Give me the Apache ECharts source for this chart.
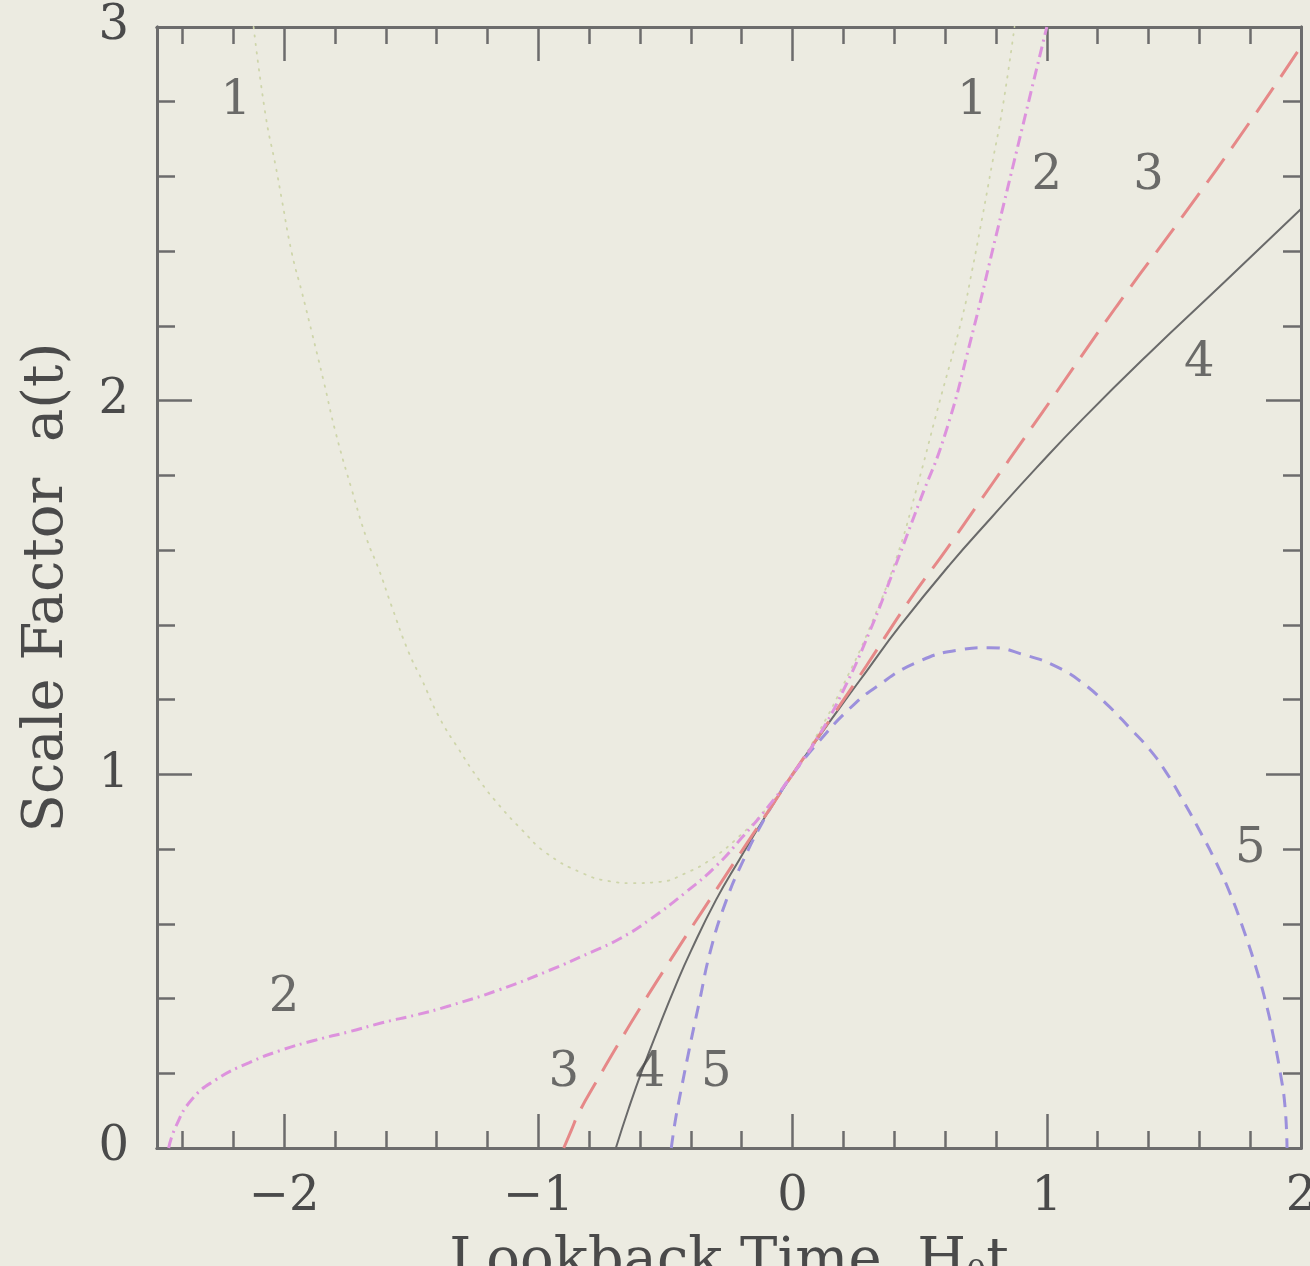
<!DOCTYPE html>
<html>
<head>
<meta charset="utf-8">
<script src="https://cdn.jsdelivr.net/npm/echarts@6/dist/echarts.min.js"></script>
<style>
  html, body { margin: 0; padding: 0; background: #ecebe1; }
  #chart { width: 1310px; height: 1266px; }
</style>
</head>
<body>
<div id="chart"></div>
<script>
// Tick positions (lookback time H0 t on x, scale factor a(t) on y)
const X_MAJOR = [-2, -1, 0, 1, 2];
const X_MINOR = [-2.4, -2.2, -1.8, -1.6, -1.4, -1.2, -0.8, -0.6, -0.4, -0.2,
                 0.2, 0.4, 0.6, 0.8, 1.2, 1.4, 1.6, 1.8];
const Y_MAJOR = [0, 1, 2, 3];
const Y_MINOR = [0.2, 0.4, 0.6, 0.8, 1.2, 1.4, 1.6, 1.8, 2.2, 2.4, 2.6, 2.8];

// Model 1: bouncing universe (dotted)
const curve1 = [
  [-2.12, 3.0], [-2.072, 2.76], [-2.033, 2.627], [-2.009, 2.538], [-1.97, 2.396],
  [-1.93, 2.29], [-1.89, 2.18], [-1.843, 2.048], [-1.797, 1.914], [-1.734, 1.762],
  [-1.674, 1.628], [-1.627, 1.548], [-1.576, 1.448], [-1.509, 1.325], [-1.458, 1.253],
  [-1.391, 1.154], [-1.312, 1.066], [-1.233, 0.985], [-1.155, 0.918], [-1.064, 0.851],
  [-0.97, 0.79], [-0.828, 0.736], [-0.72, 0.714], [-0.63, 0.709], [-0.525, 0.712],
  [-0.419, 0.736], [-0.316, 0.775], [-0.21, 0.834], [-0.1, 0.91], [0, 1.0],
  [0.1, 1.11], [0.197, 1.236], [0.302, 1.39], [0.408, 1.578], [0.487, 1.762],
  [0.57, 1.976], [0.668, 2.225], [0.707, 2.351], [0.747, 2.493], [0.786, 2.637],
  [0.825, 2.779], [0.873, 3.0]
];

// Model 2: loitering universe (dash-dot)
const curve2 = [
  [-2.454, 0.0], [-2.427, 0.056], [-2.364, 0.129], [-2.27, 0.182], [-2.139, 0.228],
  [-2.01, 0.262], [-1.875, 0.289], [-1.745, 0.311], [-1.615, 0.335], [-1.482, 0.356],
  [-1.352, 0.38], [-1.155, 0.423], [-0.958, 0.475], [-0.789, 0.525], [-0.68, 0.56],
  [-0.564, 0.61], [-0.419, 0.685], [-0.3, 0.755], [-0.2, 0.83], [-0.1, 0.91],
  [0, 1.0], [0.1, 1.1], [0.2, 1.225], [0.302, 1.38], [0.4, 1.55], [0.5, 1.73],
  [0.6, 1.91], [0.7, 2.16], [0.8, 2.44], [0.9, 2.72], [1.0, 3.0]
];

// Model 3: long dashes
const curve3 = [
  [-0.9, 0.0], [-0.87, 0.048], [-0.84, 0.095], [-0.773, 0.176], [-0.683, 0.281],
  [-0.604, 0.37], [-0.486, 0.497], [-0.355, 0.634], [-0.183, 0.812], [-0.09, 0.907],
  [0, 1.0], [0.157, 1.156], [0.29, 1.29], [0.459, 1.465], [0.604, 1.601],
  [0.722, 1.716], [0.852, 1.842], [0.982, 1.968], [1.274, 2.252], [1.534, 2.493],
  [1.797, 2.744], [2.0, 2.948]
];

// Model 4: solid
const curve4 = [
  [-0.695, 0.0], [-0.643, 0.109], [-0.591, 0.209], [-0.525, 0.325], [-0.459, 0.436],
  [-0.4, 0.527], [-0.301, 0.664], [-0.21, 0.771], [-0.1, 0.895], [0, 1.0],
  [0.1, 1.097], [0.223, 1.213], [0.29, 1.275], [0.42, 1.395], [0.617, 1.56],
  [0.786, 1.69], [0.959, 1.82], [1.14, 1.95], [1.4, 2.125], [1.7, 2.318], [2.0, 2.513]
];

// Model 5: recollapsing universe (short dashes)
const curve5 = [
  [-0.477, 0.0], [-0.462, 0.07], [-0.446, 0.129], [-0.407, 0.262], [-0.367, 0.39],
  [-0.322, 0.53], [-0.262, 0.66], [-0.197, 0.765], [-0.118, 0.872], [-0.05, 0.95],
  [0, 1.0], [0.1, 1.085], [0.223, 1.175], [0.329, 1.234], [0.487, 1.299],
  [0.656, 1.333], [0.774, 1.339], [0.92, 1.318], [1.038, 1.288], [1.14, 1.245],
  [1.246, 1.181], [1.325, 1.125], [1.405, 1.066], [1.471, 1.004], [1.534, 0.932],
  [1.6, 0.851], [1.667, 0.763], [1.72, 0.683], [1.771, 0.59], [1.826, 0.476],
  [1.865, 0.38], [1.89, 0.303], [1.918, 0.203], [1.937, 0.112], [1.945, 0.0]
];

// Curve identification numbers: [x, y, text]
const curveLabels = [
  [-2.19, 2.80, '1'], [0.707, 2.80, '1'],
  [1.0, 2.60, '2'], [-2.0, 0.40, '2'],
  [1.40, 2.60, '3'], [-0.90, 0.20, '3'],
  [1.60, 2.10, '4'], [-0.56, 0.20, '4'],
  [1.80, 0.80, '5'], [-0.30, 0.20, '5']
];

const FONT = 'DejaVu Serif';
const INK = '#4a4a4a';
const AXIS = '#6c6c6c';

const fmt = v => (v < 0 ? '\u2212' + Math.abs(v) : String(v));

function xAxisDef(pos, ticks, len, withLabels) {
  return {
    type: 'value', min: -2.5, max: 2, position: pos,
    axisLine: { show: true, onZero: false, lineStyle: { color: AXIS, width: 3 } },
    axisTick: { show: true, inside: true, length: len, customValues: ticks,
                lineStyle: { color: AXIS, width: 2.5 } },
    axisLabel: withLabels
      ? { show: true, customValues: ticks, formatter: fmt, margin: 26,
          fontFamily: FONT, fontSize: 48, color: INK }
      : { show: false },
    splitLine: { show: false }
  };
}
function yAxisDef(pos, ticks, len, withLabels) {
  return {
    type: 'value', min: 0, max: 3, position: pos,
    axisLine: { show: true, onZero: false, lineStyle: { color: AXIS, width: 3 } },
    axisTick: { show: true, inside: true, length: len, customValues: ticks,
                lineStyle: { color: AXIS, width: 2.5 } },
    axisLabel: withLabels
      ? { show: true, customValues: ticks, formatter: fmt, margin: 28,
          fontFamily: FONT, fontSize: 48, color: INK }
      : { show: false },
    splitLine: { show: false }
  };
}

const xMain = xAxisDef('bottom', X_MAJOR, 34, true);
xMain.name = '{m|Lookback Time  H}{s|0}{m|t}';
xMain.nameLocation = 'middle';
xMain.nameGap = 86;
xMain.nameTextStyle = {
  rich: {
    m: { fontFamily: FONT, fontSize: 56, color: INK },
    s: { fontFamily: FONT, fontSize: 32, color: INK, verticalAlign: 'bottom' }
  }
};

const yMain = yAxisDef('left', Y_MAJOR, 35, true);
yMain.name = 'Scale Factor  a(t)';
yMain.nameLocation = 'middle';
yMain.nameRotate = 90;
yMain.nameGap = 82;
yMain.nameTextStyle = { fontFamily: FONT, fontSize: 56, color: INK };

function curveSeries(data, color, width, type, z, cap) {
  return {
    type: 'line', data: data, showSymbol: false, symbol: 'none',
    smooth: 0.5, z: z, silent: true,
    lineStyle: { color: color, width: width, type: type, cap: cap || 'butt' }
  };
}

const chart = echarts.init(document.getElementById('chart'), null, { renderer: 'canvas' });
chart.setOption({
  backgroundColor: '#ecebe1',
  animation: false,
  grid: { left: 157, right: 9, top: 27, bottom: 118, containLabel: false, outerBoundsMode: 'none' },
  xAxis: [
    xMain,
    xAxisDef('bottom', X_MINOR, 17, false),
    xAxisDef('top', X_MAJOR, 34, false),
    xAxisDef('top', X_MINOR, 17, false)
  ],
  yAxis: [
    yMain,
    yAxisDef('left', Y_MINOR, 18, false),
    yAxisDef('right', Y_MAJOR, 35, false),
    yAxisDef('right', Y_MINOR, 18, false)
  ],
  series: [
    curveSeries(curve1, 'rgb(206,213,170)', 1.8, [1.5, 7], 2, 'round'),
    curveSeries(curve4, '#6a6a6a', 2, 'solid', 3),
    curveSeries(curve5, '#9c90dc', 3, [13, 9], 4),
    curveSeries(curve3, '#e68888', 3, [30, 13], 5),
    curveSeries(curve2, '#dd92dd', 3, [11, 5, 2, 5], 6),
    {
      type: 'scatter', symbolSize: 0, silent: true, z: 10,
      data: curveLabels.map(d => ({ value: [d[0], d[1]], name: d[2] })),
      label: { show: true, position: 'inside', formatter: '{b}',
               fontFamily: FONT, fontSize: 48, color: INK }
    }
  ]
});
</script>
</body>
</html>
